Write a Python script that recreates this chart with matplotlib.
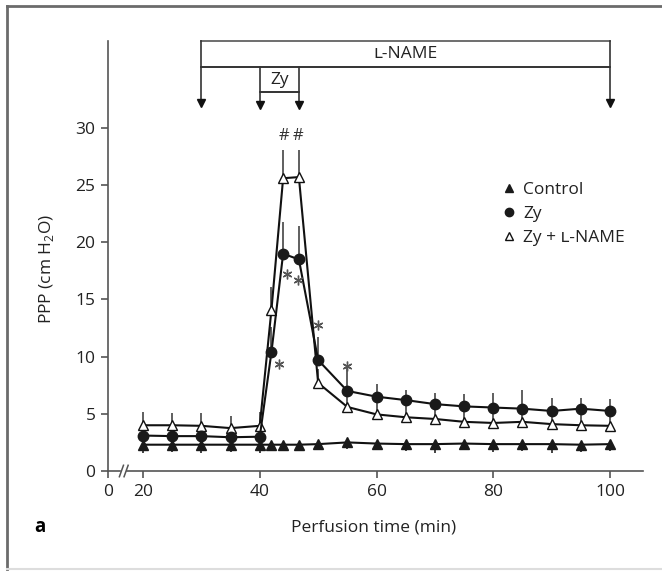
import matplotlib
matplotlib.use('Agg')
import matplotlib.pyplot as plt
from matplotlib.lines import Line2D
import numpy as np

plt.rcParams['font.family'] = ['Open Sans', 'DejaVu Sans']

# perfusion time (min); 46.7 is the end of the Zy infusion
times = [20, 25, 30, 35, 40, 42, 44, 46.7, 50, 55, 60, 65, 70, 75, 80, 85, 90, 95, 100]

control = [2.3, 2.3, 2.3, 2.3, 2.3, 2.3, 2.3, 2.3, 2.35, 2.5, 2.4, 2.35, 2.35, 2.4, 2.35, 2.35, 2.35, 2.3, 2.35]
control_err = [0.7, 0.6, 0.7, 0.6, 0.7, 0.5, 0.5, 0.5, 0.5, 0.6, 0.6, 0.6, 0.8, 0.6, 0.7, 0.6, 0.8, 0.6, 0.6]

zy = [3.1, 3.05, 3.05, 2.95, 3.0, 10.4, 19.0, 18.5, 9.7, 7.0, 6.5, 6.2, 5.85, 5.65, 5.55, 5.45, 5.25, 5.45, 5.25]
zy_err = [0.8, 0.8, 0.8, 0.8, 0.8, 2.2, 2.8, 2.9, 2.0, 2.0, 1.1, 0.9, 1.0, 1.1, 1.25, 1.6, 1.15, 0.95, 1.05]

zy_lname = [4.0, 4.0, 3.95, 3.75, 3.95, 14.1, 25.6, 25.7, 7.7, 5.6, 4.95, 4.7, 4.55, 4.3, 4.2, 4.3, 4.1, 4.0, 3.95]
zy_lname_err = [1.2, 1.1, 1.1, 1.1, 1.2, 2.0, 2.5, 2.4, 1.2, 1.0, 1.3, 1.2, 1.1, 1.2, 1.3, 1.4, 1.1, 1.2, 1.1]

star_x = [43.3, 44.6, 46.5, 50.0, 55.0]
star_y = [9.4, 17.2, 16.7, 12.8, 9.2]
hash_pos = [(44.2, 29.3), (46.6, 29.3)]

x_ticks = [14, 20, 40, 60, 80, 100]   # 14 is where the broken axis puts 0
x_labels = ['0', '20', '40', '60', '80', '100']
y_ticks = [0, 5, 10, 15, 20, 25, 30]

fs = 12.5
axc = '#555555'
tc = '#222222'

fig = plt.figure(figsize=(6.62, 5.71), dpi=100)
ax = fig.add_axes([108 / 662, 1 - 471 / 571, (643 - 108) / 662, (471 - 41) / 571])
ax.set_xlim(14, 105.65)
ax.set_ylim(0, 37.6)

# series
ax.errorbar(times, zy_lname, yerr=[np.zeros(len(times)), zy_lname_err], fmt='none',
            ecolor='#444444', elinewidth=1.2, capsize=0, zorder=2)
ax.errorbar(times, zy, yerr=[np.zeros(len(times)), zy_err], fmt='none',
            ecolor='#444444', elinewidth=1.2, capsize=0, zorder=2)
ax.errorbar(times, control, yerr=[control_err, np.zeros(len(times))], fmt='none',
            ecolor='#222222', elinewidth=1.2, capsize=0, zorder=2)
ax.plot(times, zy_lname, color='#111111', lw=1.5, marker='^', ms=7.5, mfc='white',
        mec='#111111', mew=1.0, zorder=3, label='Zy + ʟ-NAME')
ax.plot(times, zy, color='#111111', lw=1.5, marker='o', ms=7.5, mfc='#1a1a1a',
        mec='#1a1a1a', zorder=4, label='Zy')
ax.plot(times, control, color='#111111', lw=1.5, marker='^', ms=7.5, mfc='#1a1a1a',
        mec='#1a1a1a', zorder=4, label='Control')

# significance marks
ax.plot(star_x, star_y, ls='none', marker=(6, 2, 0), ms=7, mew=1.0, color='#555555', zorder=5)
for x, y in hash_pos:
    ax.text(x, y, '#', ha='center', va='center', fontsize=12, color='#333333')

# legend
handles, labels = ax.get_legend_handles_labels()
order = [2, 1, 0]
leg_handles = []
for i in order:
    h = handles[i]
    leg_handles.append(Line2D([], [], ls='none', marker=h.get_marker(), ms=6,
                              mfc=h.get_markerfacecolor(), mec=h.get_markeredgecolor()))
leg = ax.legend(leg_handles, [labels[i] for i in order], loc='upper left',
                bbox_to_anchor=(0.740, 0.672), frameon=False, fontsize=fs,
                handlelength=0.6, handletextpad=0.5, labelspacing=0.45,
                borderaxespad=0, borderpad=0)
for t in leg.get_texts():
    t.set_color(tc)

# axes
for s in ['top', 'right', 'bottom']:
    ax.spines[s].set_visible(False)
ax.spines['left'].set_color(axc)
ax.spines['left'].set_linewidth(1.2)
ax.set_yticks(y_ticks)
ax.set_xticks(x_ticks)
ax.set_xticklabels(x_labels)
ax.tick_params(direction='out', length=5, width=1.2, color=axc, labelsize=fs,
               labelcolor=tc, pad=4)
ax.plot([14, 16.1], [0, 0], color=axc, lw=1.2, clip_on=False)
ax.plot([17.3, 105.65], [0, 0], color=axc, lw=1.2, clip_on=False)
for bx in [16.3, 17.1]:
    ax.plot([bx - 0.35, bx + 0.35], [-0.5, 0.5], color=axc, lw=1.1, clip_on=False)

ax.set_xlabel('Perfusion time (min)', fontsize=fs, color=tc)
ax.set_ylabel('PPP (cm H$_\\mathregular{2}$O)', fontsize=fs, color=tc)
ax.xaxis.set_label_coords(0.497, -0.112)
ax.yaxis.set_label_coords(-0.098, 0.47)

# treatment bars above the plot
lc = '#333333'
top, mid, zy_bot = 37.6, 35.3, 33.1
ax.plot([30, 100], [top, top], color=axc, lw=1.2, clip_on=False)
ax.plot([30, 100], [mid, mid], color='#111111', lw=1.2, clip_on=False)
ax.plot([40, 46.7], [zy_bot, zy_bot], color='#111111', lw=1.2, clip_on=False)
for x in [30, 100]:
    ax.plot([x, x], [top, 32.2], color=lc, lw=1.2, clip_on=False)
    ax.plot([x], [32.2], marker='v', ms=6, color='#111111', clip_on=False)
for x in [40, 46.7]:
    ax.plot([x, x], [mid, 32.0], color=lc, lw=1.2, clip_on=False)
    ax.plot([x], [32.0], marker='v', ms=6, color='#111111', clip_on=False)
ax.text(65, 36.45, 'ʟ-NAME', ha='center', va='center', fontsize=fs, color=tc)
ax.text(43.35, 34.2, 'Zy', ha='center', va='center', fontsize=fs, color=tc)

fig.text(40 / 662, 1 - 527 / 571, 'a', fontsize=13.5, fontweight='bold', ha='center', va='center')

# outer frame
fig.add_artist(Line2D([7 / 662, 7 / 662], [1 - 6 / 571, 1 - 569 / 571], color='#6b6b6b', lw=2))
fig.add_artist(Line2D([7 / 662, 1], [1 - 6 / 571, 1 - 6 / 571], color='#6b6b6b', lw=2))
fig.add_artist(Line2D([7 / 662, 1], [1 - 569 / 571, 1 - 569 / 571], color='#dddddd', lw=1.5))

fig.savefig('out.png', dpi=100)
